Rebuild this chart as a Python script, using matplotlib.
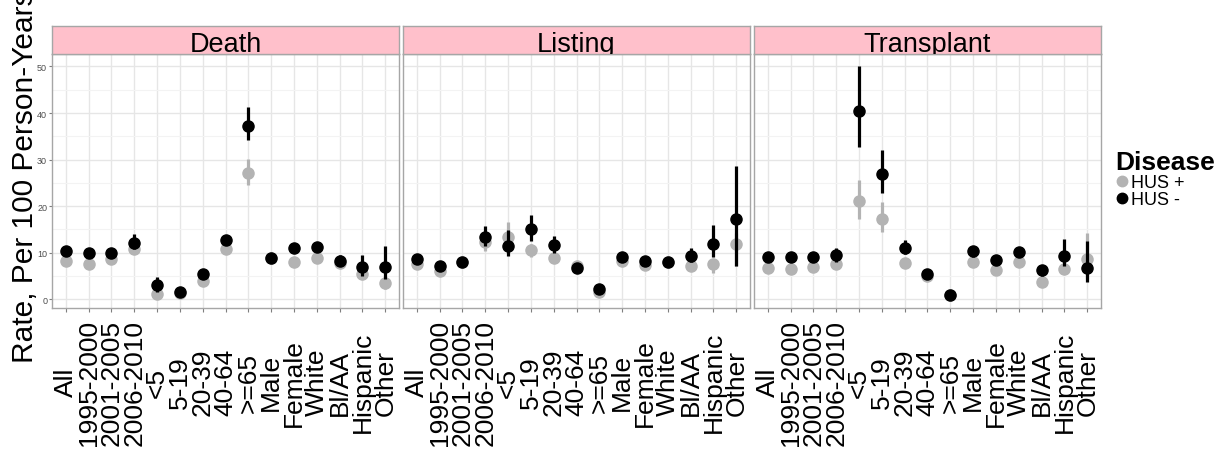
# plot.py
# Rates per 100 person-years by subgroup, HUS+ vs HUS-, faceted by outcome

import numpy as np
import matplotlib.pyplot as plt
from matplotlib.lines import Line2D
from matplotlib.ticker import MultipleLocator

plt.rcParams['font.family'] = ['Liberation Sans', 'DejaVu Sans']

categories = ['All', '1995-2000', '2001-2005', '2006-2010', '<5', '5-19', '20-39',
              '40-64', '>=65', 'Male', 'Female', 'White', 'Bl/AA', 'Hispanic', 'Other']
panels = ['Death', 'Listing', 'Transplant']

# HUS + (grey) and HUS - (black): rate, lower and upper bound
death_pos = [8.2, 7.5, 8.7, 10.9, 1.1, 1.4, 3.9, 10.8, 27.1, 8.9, 8.1, 8.9, 7.7, 5.5, 3.5]
death_pos_lo = [7.6, 6.8, 8.0, 10.0, 0.7, 1.0, 3.3, 10.0, 24.5, 8.3, 7.4, 8.3, 7.0, 4.5, 2.2]
death_pos_hi = [8.8, 8.2, 9.4, 11.8, 1.6, 1.9, 4.6, 11.6, 30.1, 9.5, 8.8, 9.5, 8.5, 6.6, 4.7]
death_neg = [10.4, 10.0, 9.9, 12.0, 3.1, 1.6, 5.4, 12.8, 37.3, 8.9, 11.1, 11.3, 8.3, 7.0, 7.0]
death_neg_lo = [9.8, 9.3, 9.2, 10.7, 1.6, 1.2, 4.7, 12.0, 34.1, 8.3, 10.4, 10.6, 7.3, 5.0, 4.4]
death_neg_hi = [11.0, 10.7, 10.6, 14.1, 4.8, 2.1, 6.1, 13.6, 41.4, 9.5, 11.8, 12.0, 9.4, 9.5, 11.5]

listing_pos = [7.5, 6.1, 7.9, 12.2, 13.3, 10.6, 8.9, 7.2, 1.6, 8.2, 7.4, 7.9, 7.2, 7.5, 11.8]
listing_pos_lo = [6.9, 5.4, 7.2, 10.4, 10.0, 9.0, 8.2, 6.5, 1.1, 7.5, 6.7, 7.2, 6.3, 5.7, 7.2]
listing_pos_hi = [8.1, 6.8, 8.6, 13.3, 16.6, 11.8, 9.6, 7.9, 2.1, 8.9, 8.1, 8.6, 8.1, 8.6, 14.3]
listing_neg = [8.6, 7.2, 8.1, 13.4, 11.5, 15.1, 11.6, 6.8, 2.2, 9.1, 8.2, 7.9, 9.3, 11.8, 17.2]
listing_neg_lo = [8.0, 6.5, 7.4, 11.5, 9.2, 12.5, 10.0, 6.1, 1.7, 8.5, 7.5, 7.3, 7.9, 9.0, 7.2]
listing_neg_hi = [9.2, 7.9, 8.8, 15.8, 14.9, 18.1, 13.5, 7.5, 2.7, 9.7, 8.9, 8.5, 11.1, 15.9, 28.7]

transplant_pos = [6.8, 6.6, 7.0, 7.5, 21.0, 17.3, 7.7, 4.9, 1.0, 8.1, 6.3, 8.0, 3.7, 6.5, 8.6]
transplant_pos_lo = [6.2, 5.9, 6.3, 6.8, 17.2, 14.5, 7.0, 4.2, 0.6, 7.4, 5.6, 7.3, 3.0, 5.4, 4.3]
transplant_pos_hi = [7.4, 7.3, 7.7, 8.2, 25.6, 20.9, 8.4, 5.6, 1.4, 8.8, 7.0, 8.7, 4.4, 7.6, 14.3]
transplant_neg = [9.1, 9.0, 9.0, 9.5, 40.4, 27.0, 11.0, 5.4, 1.0, 10.3, 8.5, 10.1, 6.2, 9.3, 6.8]
transplant_neg_lo = [8.5, 8.3, 8.3, 7.9, 32.8, 22.8, 9.7, 4.8, 0.6, 9.0, 7.8, 9.4, 5.0, 7.2, 3.7]
transplant_neg_hi = [9.7, 9.7, 9.7, 11.1, 50.2, 32.0, 12.8, 6.0, 1.4, 11.5, 9.2, 10.8, 7.2, 12.9, 12.5]

series = {
    'Death': (death_pos, death_pos_lo, death_pos_hi, death_neg, death_neg_lo, death_neg_hi),
    'Listing': (listing_pos, listing_pos_lo, listing_pos_hi, listing_neg, listing_neg_lo, listing_neg_hi),
    'Transplant': (transplant_pos, transplant_pos_lo, transplant_pos_hi,
                   transplant_neg, transplant_neg_lo, transplant_neg_hi),
}

GREY = '#B3B3B3'
BLACK = '#000000'
PINK = '#FFC0CB'
BORDER = '#A6A6A6'

# shared y range with ggplot-style 5% expansion
all_lo = min(min(v[1] + v[4]) for v in series.values())
all_hi = max(max(v[2] + v[5]) for v in series.values())
pad = 0.05 * (all_hi - all_lo)
ylim = (all_lo - pad, all_hi + pad)

W, H = 1227, 452
fig = plt.figure(figsize=(W / 100, H / 100), dpi=100)

panel_left = [52, 403, 754]
panel_w = 347
panel_top, panel_bot, strip_top = 55, 309, 27

x = np.arange(len(categories))

for i, name in enumerate(panels):
    ax = fig.add_axes([panel_left[i] / W, 1 - panel_bot / H,
                       panel_w / W, (panel_bot - panel_top) / H])
    pos, pos_lo, pos_hi, neg, neg_lo, neg_hi = series[name]

    ax.vlines(x, pos_lo, pos_hi, color=GREY, lw=2.3, zorder=3)
    ax.plot(x, pos, 'o', color=GREY, markersize=8, zorder=4)
    ax.vlines(x, neg_lo, neg_hi, color=BLACK, lw=2.3, zorder=5)
    ax.plot(x, neg, 'o', color=BLACK, markersize=8, zorder=6)

    ax.set_xlim(-0.6, len(categories) - 0.4)
    ax.set_ylim(*ylim)
    ax.yaxis.set_major_locator(MultipleLocator(10))
    ax.yaxis.set_minor_locator(MultipleLocator(5))
    ax.grid(True, which='major', color='#E6E6E6', lw=1.0, zorder=0)
    ax.grid(True, which='minor', axis='y', color='#F3F3F3', lw=0.8, zorder=0)
    ax.set_axisbelow(True)
    for sp in ax.spines.values():
        sp.set_color(BORDER)
        sp.set_linewidth(1.0)

    ax.set_xticks(x)
    ax.set_xticklabels(categories, rotation=90, fontsize=19, va='center', ha='center')
    ax.tick_params(axis='x', length=3, color='#7F7F7F', pad=50)
    ax.tick_params(axis='y', which='major', length=2, color='#7F7F7F',
                   labelsize=6.5, labelcolor='#4D4D4D', pad=1.5)
    ax.tick_params(axis='y', which='minor', length=0)
    if i > 0:
        ax.tick_params(axis='y', which='major', length=0, labelleft=False)

    # facet strip
    sax = fig.add_axes([panel_left[i] / W, 1 - panel_top / H,
                        panel_w / W, (panel_top - strip_top) / H])
    sax.set_facecolor(PINK)
    sax.set_xticks([])
    sax.set_yticks([])
    for sp in sax.spines.values():
        sp.set_color(BORDER)
        sp.set_linewidth(1.0)
    sax.text(0.5, 0.11, name, transform=sax.transAxes, ha='center', va='baseline',
             fontsize=19.5, color='black', clip_on=True)

fig.text(25 / W, 1 - 177 / H, 'Rate, Per 100 Person-Years', rotation=90,
         ha='center', va='center', fontsize=21.5)

handles = [Line2D([], [], marker='o', ls='', color=GREY, markersize=7.5),
           Line2D([], [], marker='o', ls='', color=BLACK, markersize=7.5)]
leg = fig.legend(handles, ['HUS +', 'HUS -'], title='Disease', loc='upper left',
                 bbox_to_anchor=(1115 / W, 1 - 151 / H), frameon=False,
                 fontsize=13, handlelength=0.8, handletextpad=0.1,
                 labelspacing=0.0, borderpad=0.0, borderaxespad=0.0)
leg.get_title().set_fontsize(19)
leg.get_title().set_fontweight('bold')
leg._legend_box.align = 'left'

fig.savefig('out.png', dpi=100, facecolor='white')
plt.close(fig)
